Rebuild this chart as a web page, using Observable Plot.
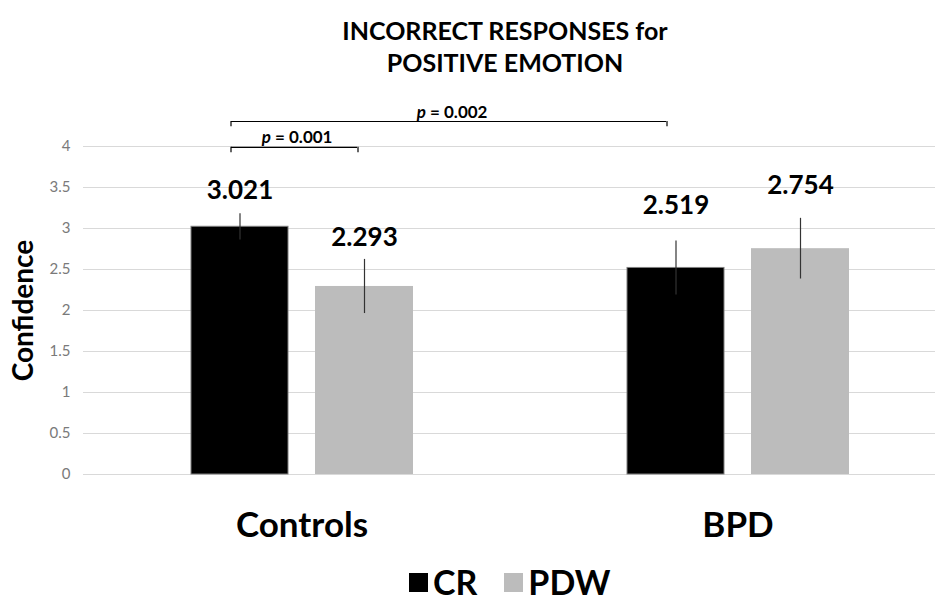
<!DOCTYPE html>
<html>
<head>
<meta charset="utf-8">
<script src="https://cdn.jsdelivr.net/npm/d3@7"></script>
<script src="https://cdn.jsdelivr.net/npm/@observablehq/plot@0.6"></script>
<style>
  html, body { margin: 0; padding: 0; background: #fff; }
  body { width: 944px; height: 601px; overflow: hidden; font-family: Lato, sans-serif; }
  #title { box-sizing: border-box; height: 95px; padding: 14px 0 0 66px; text-align: center;
           font-weight: bold; font-size: 25px; line-height: 32px; color: #000; }
  #legend { box-sizing: border-box; display: flex; align-items: flex-start; height: 46px; padding: 10px 0 0 409px;
            font-weight: bold; font-size: 34px; line-height: 34px; color: #000; }
  .sw { width: 19px; height: 19px; display: inline-block; margin-top: 8px; }
</style>
</head>
<body>
<div id="title"></div>
<div id="chart"></div>
<div id="legend"></div>
<script>
// ---- data ----
const titleLines = ["INCORRECT RESPONSES for", "POSITIVE EMOTION"];
const groups = ["Controls", "BPD"];
const series = ["CR", "PDW"];
const seriesColors = ["#000000", "#bcbcbc"];
const crMeans = [3.021, 2.519];
const pdwMeans = [2.293, 2.754];
const crErrors = [0.16, 0.33];
const pdwErrors = [0.33, 0.37];
const yTicks = [0, 0.5, 1, 1.5, 2, 2.5, 3, 3.5, 4];
const yLabel = "Confidence";
const pValues = ["p = 0.001", "p = 0.002"];

// ---- build table ----
const rows = [];
groups.forEach((g, i) => {
  rows.push({group: g, series: "CR", mean: crMeans[i], err: crErrors[i]});
  rows.push({group: g, series: "PDW", mean: pdwMeans[i], err: pdwErrors[i]});
});
const cr = rows.filter(d => d.series === "CR");
const pdw = rows.filter(d => d.series === "PDW");
const fmt = d3.format(".3f");
const pick = (g, s) => rows.filter(d => d.group === g && d.series === s);

// bracket definitions (levels in data units)
const brackets = [
  {from: "Controls", to: "Controls", label: pValues[0], level: 3.99},
  {from: "Controls", to: "BPD", label: pValues[1], level: 4.305}
];
const bracketStyle = [{insetRight: 74, labelDx: -4, dy: -10}, {insetRight: 201, labelDx: 151, dy: -9}];
const tickLen = 0.065;

document.getElementById("title").innerHTML = titleLines.map(t => `<div>${t}</div>`).join("");

const valueLabel = (g, s, dx, dy) => Plot.text(pick(g, s), {
  x: "group", y: d => d.mean + d.err, text: d => fmt(d.mean), dx, dy,
  fontSize: 26, fontWeight: "bold", fill: "#000"
});

const bracketMarks = brackets.flatMap((b, i) => {
  const st = bracketStyle[i];
  return [
    Plot.ruleY([b], {x1: "from", x2: "to", y: "level", stroke: "#000", strokeWidth: 1.2, insetLeft: 59, insetRight: st.insetRight}),
    Plot.text([b], {x: "from", y: "level", text: d => d.label.slice(0, 1), dx: st.labelDx - 27, dy: st.dy,
      textAnchor: "end", fontSize: 17, fontWeight: "bold", fontStyle: "italic", fill: "#000"}),
    Plot.text([b], {x: "from", y: "level", text: d => d.label.slice(1).trim(), dx: st.labelDx - 23, dy: st.dy,
      textAnchor: "start", fontSize: 17, fontWeight: "bold", fill: "#000"})
  ];
});

const plot = Plot.plot({
  width: 944,
  height: 460,
  marginLeft: 83,
  marginRight: 9,
  marginTop: 51,
  marginBottom: 81,
  style: {fontFamily: "Lato, sans-serif", background: "white"},
  x: {domain: groups, paddingInner: 0.405, paddingOuter: 0.1774, align: 0.568, axis: null},
  y: {domain: [0, 4], axis: null},
  marks: [
    Plot.gridY(yTicks, {stroke: "#d9d9d9", strokeOpacity: 1}),
    Plot.axisY(yTicks, {tickSize: 0, tickPadding: 13, fontSize: 15, color: "#7a7a7a", label: null, tickFormat: d => String(d)}),
    Plot.barY(cr, {x: "group", y: "mean", fill: seriesColors[0], stroke: "#7f7f7f", strokeWidth: 1, insetLeft: 19, insetRight: 143}),
    Plot.barY(pdw, {x: "group", y: "mean", fill: seriesColors[1], insetLeft: 143, insetRight: 18}),
    Plot.ruleX(cr, {x: "group", y1: d => d.mean - d.err, y2: d => d.mean + d.err, stroke: "#333", strokeWidth: 1.2, dx: -62}),
    Plot.ruleX(pdw, {x: "group", y1: d => d.mean - d.err, y2: d => d.mean + d.err, stroke: "#333", strokeWidth: 1.2, dx: 62.5}),
    valueLabel("Controls", "CR", -62, -23),
    valueLabel("Controls", "PDW", 62.5, -22),
    valueLabel("BPD", "CR", -62, -35),
    valueLabel("BPD", "PDW", 62.5, -33),
    ...bracketMarks,
    Plot.ruleX(brackets, {x: "from", y1: d => d.level - tickLen, y2: "level", stroke: "#000", strokeWidth: 1.2, dx: -71}),
    Plot.ruleX([brackets[0]], {x: "to", y1: d => d.level - tickLen, y2: "level", stroke: "#000", strokeWidth: 1.2, dx: 56}),
    Plot.ruleX([brackets[1]], {x: "to", y1: d => d.level - tickLen, y2: "level", stroke: "#000", strokeWidth: 1.2, dx: -71}),
    // group labels
    Plot.text(groups, {x: d => d, frameAnchor: "bottom", dy: 51, lineAnchor: "middle", fontSize: 35, fontWeight: "bold", fill: "#000"}),
    // y label
    Plot.text([yLabel], {frameAnchor: "left", textAnchor: "middle", lineAnchor: "middle", rotate: -90, dx: -59, fontSize: 28, fontWeight: "bold", fill: "#000"})
  ]
});

document.getElementById("chart").appendChild(plot);

document.getElementById("legend").innerHTML = series.map((s, i) =>
  `<span class="sw" style="background:${seriesColors[i]}"></span><span style="margin-left:5px;margin-right:${i === 0 ? 27 : 0}px">${s}</span>`
).join("");
</script>
</body>
</html>
